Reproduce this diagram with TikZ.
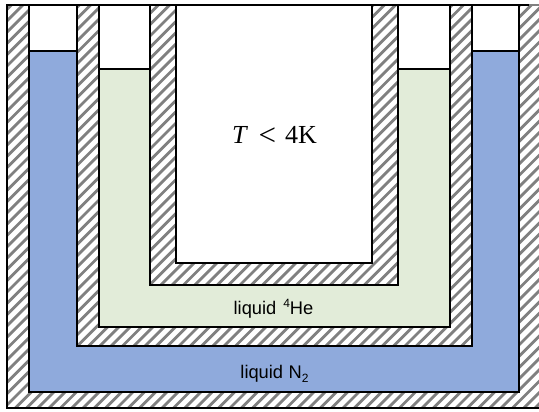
\documentclass[tikz,border=0pt]{standalone}
\usepackage{fontspec}
\setmainfont{Liberation Sans}
\newfontfamily\mathlike{Liberation Serif}
\definecolor{nitro}{RGB}{143,170,220}
\definecolor{helium}{RGB}{226,236,217}
\definecolor{hatchgray}{RGB}{128,128,128}
\tikzset{
  outline/.style={draw=black,line width=2.3pt},
  nitrogen/.style={outline,fill=nitro},
  heliumfill/.style={outline,fill=helium},
  voidfill/.style={outline,fill=white},
  stripe/.style={draw=hatchgray,line width=2.8pt},
  caption/.style={font=\fontsize{18.3}{20}\selectfont,text=black,inner sep=0pt,anchor=base}
}
\newcommand{\hatchfill}[4]{%
  \fill[white] (#1,#2) rectangle (#3,#4);
  \begin{scope}
    \clip (#1,#2) rectangle (#3,#4);
    \foreach \k in {-45,...,100} {
      \draw[stripe] ({\k*11.3},412) -- ({\k*11.3+412},0);
    }
  \end{scope}
}
\newcommand{\hatchbox}[4]{%
  \hatchfill{#1}{#2}{#3}{#4}
  \draw[outline] (#1,#2) rectangle (#3,#4);
}
\begin{document}
\begin{tikzpicture}[x=1pt,y=-1pt]
\useasboundingbox (0,0) rectangle (539,412);
\fill[white] (0,0) rectangle (539,412);
\hatchfill{7}{5}{539}{408}
\draw[outline] (529,5) -- (7,5) -- (7,408) -- (539,408);
\draw[draw=hatchgray,line width=2.3pt] (529,5) -- (539,5);
\draw[nitrogen] (29,51) rectangle (519,392);
\draw[voidfill] (29,5) rectangle (519,51);
\hatchbox{77}{5}{472}{346}
\draw[heliumfill] (99,69) rectangle (450,327);
\draw[voidfill] (99,5) rectangle (450,69);
\hatchbox{150}{5}{398}{285}
\draw[voidfill] (176,5) rectangle (372,263);
\node[caption] (he) at (273.5,314) {liquid\hspace{0.38em}\raisebox{0.38em}{\fontsize{12}{14}\selectfont 4}He};
\node[caption] (n2) at (274.5,378) {liquid\hspace{0.3em}N\raisebox{-0.22em}{\fontsize{12}{14}\selectfont 2}};
\node[inner sep=0pt,anchor=base,font=\fontsize{26}{30}\selectfont\mathlike] (temp) at (274.5,143) {\textit{T}\hspace{0.4em}\raisebox{-0.11em}{\fontsize{31}{30}\selectfont<}\hspace{0.35em}4K};
\end{tikzpicture}
\end{document}
